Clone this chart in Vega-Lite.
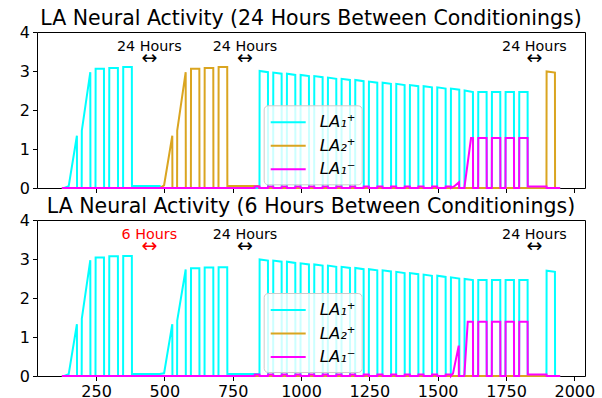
{
"$schema": "https://vega.github.io/schema/vega-lite/v6.json",
"padding": {"left": 18, "top": 8, "right": 5, "bottom": 5},
"config": {
  "font": "DejaVu Sans",
  "view": {"stroke": "black", "strokeWidth": 1},
  "axis": {"domainColor": "black", "tickColor": "black", "labelColor": "black", "labelFontSize": 16, "tickSize": 4.5, "labelPadding": 3, "grid": false, "domain": false},
  "title": {"fontSize": 20.5, "fontWeight": "normal", "color": "black", "frame": "group", "anchor": "middle", "baseline": "alphabetic", "offset": -5.5},
  "legend": {"fillColor": "rgba(255,255,255,0.8)", "strokeColor": "#cccccc", "cornerRadius": 4, "padding": 6, "labelFontSize": 16.5, "labelFontStyle": "italic", "labelFont": "DejaVu Sans", "labelColor": "black", "symbolType": "M-1,0H2.5", "symbolSize": 400, "symbolStrokeWidth": 2, "labelOffset": 28, "rowPadding": 3.5}
},
"datasets": {
  "topC": [{"t":125,"v":0},{"t":134,"v":0},{"t":150,"v":0.05},{"t":180,"v":1.34},{"t":180.5,"v":0},{"t":197.5,"v":0},{"t":198,"v":1.47},{"t":229,"v":2.97},{"t":229.5,"v":0},{"t":248,"v":0},{"t":248.5,"v":3.06},{"t":279,"v":3.06},{"t":279.5,"v":0},{"t":298,"v":0},{"t":298.5,"v":3.08},{"t":330,"v":3.08},{"t":330.5,"v":0},{"t":349,"v":0},{"t":349.5,"v":3.1},{"t":381,"v":3.1},{"t":381.5,"v":0.05},{"t":483,"v":0.05},{"t":483.5,"v":0},{"t":848,"v":0},
    {"t":848.5,"v":3.0},{"t":879,"v":2.97},{"t":879.5,"v":0},{"t":898,"v":0},
    {"t":898.5,"v":2.96},{"t":929,"v":2.93},{"t":929.5,"v":0},{"t":948,"v":0},
    {"t":948.5,"v":2.93},{"t":979,"v":2.9},{"t":979.5,"v":0},{"t":998,"v":0},
    {"t":998.5,"v":2.9},{"t":1029,"v":2.87},{"t":1029.5,"v":0},{"t":1048,"v":0},
    {"t":1048.5,"v":2.87},{"t":1079,"v":2.84},{"t":1079.5,"v":0},{"t":1098,"v":0},
    {"t":1098.5,"v":2.83},{"t":1129,"v":2.8},{"t":1129.5,"v":0},{"t":1148,"v":0},
    {"t":1148.5,"v":2.8},{"t":1179,"v":2.77},{"t":1179.5,"v":0},{"t":1198,"v":0},
    {"t":1198.5,"v":2.77},{"t":1229,"v":2.74},{"t":1229.5,"v":0},{"t":1248,"v":0},
    {"t":1248.5,"v":2.73},{"t":1279,"v":2.7},{"t":1279.5,"v":0},{"t":1298,"v":0},
    {"t":1298.5,"v":2.7},{"t":1329,"v":2.67},{"t":1329.5,"v":0},{"t":1348,"v":0},
    {"t":1348.5,"v":2.67},{"t":1379,"v":2.64},{"t":1379.5,"v":0},{"t":1398,"v":0},
    {"t":1398.5,"v":2.64},{"t":1429,"v":2.61},{"t":1429.5,"v":0},{"t":1448,"v":0},
    {"t":1448.5,"v":2.61},{"t":1479,"v":2.58},{"t":1479.5,"v":0},{"t":1498,"v":0},
    {"t":1498.5,"v":2.58},{"t":1529,"v":2.55},{"t":1529.5,"v":0},{"t":1548,"v":0},
    {"t":1548.5,"v":2.55},{"t":1579,"v":2.52},{"t":1579.5,"v":0},{"t":1598,"v":0},
    {"t":1598.5,"v":2.5},{"t":1629,"v":2.46},{"t":1629.5,"v":0},{"t":1648,"v":0},
    {"t":1648.5,"v":2.46},{"t":1679,"v":2.46},{"t":1679.5,"v":0},{"t":1698,"v":0},
    {"t":1698.5,"v":2.46},{"t":1729,"v":2.46},{"t":1729.5,"v":0},{"t":1748,"v":0},
    {"t":1748.5,"v":2.46},{"t":1779,"v":2.46},{"t":1779.5,"v":0},{"t":1798,"v":0},
    {"t":1798.5,"v":2.46},{"t":1829,"v":2.46},{"t":1829.5,"v":0},{"t":1948,"v":0}],
  "topO": [{"t":125,"v":0},{"t":483,"v":0},{"t":499,"v":0.07},{"t":529,"v":1.34},{"t":529.5,"v":0},{"t":546.5,"v":0},{"t":547,"v":1.47},{"t":578,"v":2.97},{"t":578.5,"v":0},{"t":597,"v":0},{"t":597.5,"v":3.06},{"t":628,"v":3.06},{"t":628.5,"v":0},{"t":647,"v":0},{"t":647.5,"v":3.08},{"t":679,"v":3.08},{"t":679.5,"v":0},{"t":698,"v":0},{"t":698.5,"v":3.1},{"t":730,"v":3.1},{"t":730.5,"v":0.05},{"t":846,"v":0.05},{"t":846.5,"v":0},{"t":1898,"v":0},{"t":1898.5,"v":2.99},{"t":1929,"v":2.96},{"t":1929.5,"v":0},{"t":1948,"v":0}],
  "topM": [{"t":125,"v":0},{"t":830,"v":0},{"t":830.5,"v":0.04},{"t":848,"v":0.04},{"t":848.5,"v":0},
    {"t":879,"v":0},{"t":879.5,"v":0.04},{"t":898,"v":0.04},{"t":898.5,"v":0},
    {"t":929,"v":0},{"t":929.5,"v":0.04},{"t":948,"v":0.04},{"t":948.5,"v":0},
    {"t":979,"v":0},{"t":979.5,"v":0.04},{"t":998,"v":0.04},{"t":998.5,"v":0},
    {"t":1029,"v":0},{"t":1029.5,"v":0.04},{"t":1048,"v":0.04},{"t":1048.5,"v":0},
    {"t":1079,"v":0},{"t":1079.5,"v":0.04},{"t":1098,"v":0.04},{"t":1098.5,"v":0},
    {"t":1129,"v":0},{"t":1129.5,"v":0.04},{"t":1148,"v":0.04},{"t":1148.5,"v":0},
    {"t":1179,"v":0},{"t":1179.5,"v":0.04},{"t":1198,"v":0.04},{"t":1198.5,"v":0},
    {"t":1229,"v":0},{"t":1229.5,"v":0.04},{"t":1248,"v":0.04},{"t":1248.5,"v":0},
    {"t":1279,"v":0},{"t":1279.5,"v":0.04},{"t":1298,"v":0.04},{"t":1298.5,"v":0},
    {"t":1329,"v":0},{"t":1329.5,"v":0.04},{"t":1348,"v":0.04},{"t":1348.5,"v":0},
    {"t":1379,"v":0},{"t":1379.5,"v":0.04},{"t":1398,"v":0.04},{"t":1398.5,"v":0},
    {"t":1429,"v":0},{"t":1429.5,"v":0.04},{"t":1448,"v":0.04},{"t":1448.5,"v":0},
    {"t":1479,"v":0},{"t":1479.5,"v":0.04},{"t":1498,"v":0.04},{"t":1498.5,"v":0},
    {"t":1529,"v":0},{"t":1529.5,"v":0.04},{"t":1548,"v":0.04},{"t":1548.5,"v":0},
    {"t":1560,"v":0.04},{"t":1578,"v":0.15},{"t":1578.5,"v":0},{"t":1598,"v":0},
    {"t":1598.5,"v":0.05},{"t":1622,"v":1.28},{"t":1629,"v":1.28},{"t":1629.5,"v":0},{"t":1648,"v":0},
    {"t":1648.5,"v":1.28},{"t":1679,"v":1.28},{"t":1679.5,"v":0},{"t":1698,"v":0},
    {"t":1698.5,"v":1.28},{"t":1729,"v":1.28},{"t":1729.5,"v":0},{"t":1748,"v":0},
    {"t":1748.5,"v":1.28},{"t":1779,"v":1.28},{"t":1779.5,"v":0},{"t":1798,"v":0},
    {"t":1798.5,"v":1.28},{"t":1829,"v":1.28},{"t":1829.5,"v":0.04},{"t":1898,"v":0.04},{"t":1898.5,"v":0},{"t":1948,"v":0}],
  "botC": [{"t":125,"v":0},{"t":134,"v":0},{"t":150,"v":0.05},{"t":180,"v":1.33},{"t":180.5,"v":0},{"t":197.5,"v":0},{"t":198,"v":1.47},{"t":229,"v":2.97},{"t":229.5,"v":0},{"t":248,"v":0},{"t":248.5,"v":3.04},{"t":279,"v":3.04},{"t":279.5,"v":0},{"t":298,"v":0},{"t":298.5,"v":3.07},{"t":330,"v":3.07},{"t":330.5,"v":0},{"t":349,"v":0},{"t":349.5,"v":3.08},{"t":381,"v":3.08},{"t":381.5,"v":0.05},{"t":483,"v":0.05},{"t":499,"v":0.07},{"t":529,"v":1.33},{"t":529.5,"v":0},{"t":546.5,"v":0},{"t":547,"v":1.42},{"t":578,"v":2.73},{"t":578.5,"v":0},{"t":597,"v":0},{"t":597.5,"v":2.76},{"t":628,"v":2.76},{"t":628.5,"v":0},{"t":647,"v":0},{"t":647.5,"v":2.78},{"t":679,"v":2.78},{"t":679.5,"v":0},{"t":698,"v":0},{"t":698.5,"v":2.79},{"t":730,"v":2.79},{"t":730.5,"v":0.05},{"t":846,"v":0.05},{"t":846.5,"v":0},{"t":848,"v":0},
    {"t":848.5,"v":2.99},{"t":879,"v":2.96},{"t":879.5,"v":0},{"t":898,"v":0},
    {"t":898.5,"v":2.96},{"t":929,"v":2.93},{"t":929.5,"v":0},{"t":948,"v":0},
    {"t":948.5,"v":2.93},{"t":979,"v":2.9},{"t":979.5,"v":0},{"t":998,"v":0},
    {"t":998.5,"v":2.89},{"t":1029,"v":2.86},{"t":1029.5,"v":0},{"t":1048,"v":0},
    {"t":1048.5,"v":2.86},{"t":1079,"v":2.83},{"t":1079.5,"v":0},{"t":1098,"v":0},
    {"t":1098.5,"v":2.83},{"t":1129,"v":2.8},{"t":1129.5,"v":0},{"t":1148,"v":0},
    {"t":1148.5,"v":2.8},{"t":1179,"v":2.77},{"t":1179.5,"v":0},{"t":1198,"v":0},
    {"t":1198.5,"v":2.77},{"t":1229,"v":2.74},{"t":1229.5,"v":0},{"t":1248,"v":0},
    {"t":1248.5,"v":2.74},{"t":1279,"v":2.71},{"t":1279.5,"v":0},{"t":1298,"v":0},
    {"t":1298.5,"v":2.71},{"t":1329,"v":2.68},{"t":1329.5,"v":0},{"t":1348,"v":0},
    {"t":1348.5,"v":2.67},{"t":1379,"v":2.64},{"t":1379.5,"v":0},{"t":1398,"v":0},
    {"t":1398.5,"v":2.64},{"t":1429,"v":2.61},{"t":1429.5,"v":0},{"t":1448,"v":0},
    {"t":1448.5,"v":2.6},{"t":1479,"v":2.57},{"t":1479.5,"v":0},{"t":1498,"v":0},
    {"t":1498.5,"v":2.57},{"t":1529,"v":2.54},{"t":1529.5,"v":0},{"t":1548,"v":0},
    {"t":1548.5,"v":2.53},{"t":1579,"v":2.5},{"t":1579.5,"v":0},{"t":1598,"v":0},
    {"t":1598.5,"v":2.49},{"t":1629,"v":2.46},{"t":1629.5,"v":0},{"t":1648,"v":0},
    {"t":1648.5,"v":2.46},{"t":1679,"v":2.46},{"t":1679.5,"v":0},{"t":1698,"v":0},
    {"t":1698.5,"v":2.46},{"t":1729,"v":2.46},{"t":1729.5,"v":0},{"t":1748,"v":0},
    {"t":1748.5,"v":2.46},{"t":1779,"v":2.46},{"t":1779.5,"v":0},{"t":1798,"v":0},
    {"t":1798.5,"v":2.46},{"t":1829,"v":2.46},{"t":1829.5,"v":0},{"t":1898,"v":0},
    {"t":1898.5,"v":2.7},{"t":1929,"v":2.67},{"t":1929.5,"v":0},{"t":1948,"v":0}],
  "botO": [{"t":125,"v":0},{"t":1948,"v":0}],
  "botM": [{"t":125,"v":0},{"t":830,"v":0},{"t":830.5,"v":0.04},{"t":848,"v":0.04},{"t":848.5,"v":0},
    {"t":879,"v":0},{"t":879.5,"v":0.04},{"t":898,"v":0.04},{"t":898.5,"v":0},
    {"t":929,"v":0},{"t":929.5,"v":0.04},{"t":948,"v":0.04},{"t":948.5,"v":0},
    {"t":979,"v":0},{"t":979.5,"v":0.04},{"t":998,"v":0.04},{"t":998.5,"v":0},
    {"t":1029,"v":0},{"t":1029.5,"v":0.04},{"t":1048,"v":0.04},{"t":1048.5,"v":0},
    {"t":1079,"v":0},{"t":1079.5,"v":0.04},{"t":1098,"v":0.04},{"t":1098.5,"v":0},
    {"t":1129,"v":0},{"t":1129.5,"v":0.04},{"t":1148,"v":0.04},{"t":1148.5,"v":0},
    {"t":1179,"v":0},{"t":1179.5,"v":0.04},{"t":1198,"v":0.04},{"t":1198.5,"v":0},
    {"t":1229,"v":0},{"t":1229.5,"v":0.04},{"t":1248,"v":0.04},{"t":1248.5,"v":0},
    {"t":1279,"v":0},{"t":1279.5,"v":0.04},{"t":1298,"v":0.04},{"t":1298.5,"v":0},
    {"t":1329,"v":0},{"t":1329.5,"v":0.04},{"t":1348,"v":0.04},{"t":1348.5,"v":0},
    {"t":1379,"v":0},{"t":1379.5,"v":0.04},{"t":1398,"v":0.04},{"t":1398.5,"v":0},
    {"t":1429,"v":0},{"t":1429.5,"v":0.04},{"t":1448,"v":0.04},{"t":1448.5,"v":0},
    {"t":1479,"v":0},{"t":1479.5,"v":0.04},{"t":1498,"v":0.04},{"t":1498.5,"v":0},
    {"t":1529,"v":0},{"t":1529.5,"v":0.04},{"t":1548,"v":0.04},{"t":1548.5,"v":0},
    {"t":1556,"v":0.06},{"t":1577,"v":0.78},{"t":1577.5,"v":0},{"t":1597,"v":0},
    {"t":1598,"v":0.06},{"t":1610,"v":1.39},{"t":1629,"v":1.39},{"t":1629.5,"v":0},{"t":1648,"v":0},
    {"t":1648.5,"v":1.39},{"t":1679,"v":1.39},{"t":1679.5,"v":0},{"t":1698,"v":0},
    {"t":1698.5,"v":1.39},{"t":1729,"v":1.39},{"t":1729.5,"v":0},{"t":1748,"v":0},
    {"t":1748.5,"v":1.39},{"t":1779,"v":1.39},{"t":1779.5,"v":0},{"t":1798,"v":0},
    {"t":1798.5,"v":1.39},{"t":1829,"v":1.39},{"t":1829.5,"v":0.04},{"t":1898,"v":0.04},{"t":1898.5,"v":0},{"t":1948,"v":0}],
  "ann": [{"p":"top","t":445,"v":3.51,"label":"24 Hours"},{"p":"top","t":795,"v":3.51,"label":"24 Hours"},{"p":"top","t":1854,"v":3.51,"label":"24 Hours"},
          {"p":"bot","t":445,"v":3.51,"label":"6 Hours"},{"p":"bot","t":795,"v":3.51,"label":"24 Hours"},{"p":"bot","t":1854,"v":3.51,"label":"24 Hours"}]
},
"spacing": -1,
"resolve": {"legend": {"color": "independent"}},
"vconcat": [
  {
    "width": 548, "height": 156,
    "title": {"text": "LA Neural Activity (24 Hours Between Conditionings)"},
    "encoding": {
      "x": {"field": "t", "type": "quantitative", "scale": {"domain": [34, 2039], "nice": false, "zero": false}, "axis": {"values": [250,500,750,1000,1250,1500,1750,2000], "labels": false, "title": null}},
      "y": {"field": "v", "type": "quantitative", "scale": {"domain": [0, 4], "nice": false}, "axis": {"values": [0,1,2,3,4], "format": "d", "title": null}}
    },
    "layer": [
      {"data": {"name": "topC"}, "mark": {"type": "line", "strokeWidth": 2}, "encoding": {"color": {"datum": "LA₁⁺", "type": "nominal", "scale": {"domain": ["LA₁⁺", "LA₂⁺", "LA₁⁻"], "range": ["#00ffff", "#daa520", "#ff00ff"]}, "legend": {"orient": "none", "legendX": 226.7, "legendY": 73.3, "title": null}}}},
      {"data": {"name": "topO"}, "mark": {"type": "line", "strokeWidth": 2}, "encoding": {"color": {"datum": "LA₂⁺", "type": "nominal"}}},
      {"data": {"name": "topM"}, "mark": {"type": "line", "strokeWidth": 2}, "encoding": {"color": {"datum": "LA₁⁻", "type": "nominal"}}},
      {"data": {"name": "ann"}, "transform": [{"filter": "datum.p == 'top'"}], "mark": {"type": "text", "fontSize": 14.3, "baseline": "alphabetic", "align": "center"}, "encoding": {"text": {"field": "label"}, "color": {"condition": {"test": "datum.label == '6 Hours'", "value": "red"}, "value": "black"}}},
      {"data": {"name": "ann"}, "transform": [{"filter": "datum.p == 'top'"}], "mark": {"type": "text", "fontSize": 19, "baseline": "alphabetic", "align": "center", "dy": 13, "text": "↔"}, "encoding": {"color": {"condition": {"test": "datum.label == '6 Hours'", "value": "red"}, "value": "black"}}}
    ]
  },
  {
    "width": 548, "height": 156,
    "title": {"text": "LA Neural Activity (6 Hours Between Conditionings)"},
    "encoding": {
      "x": {"field": "t", "type": "quantitative", "scale": {"domain": [34, 2039], "nice": false, "zero": false}, "axis": {"values": [250,500,750,1000,1250,1500,1750,2000], "format": "d", "title": null}},
      "y": {"field": "v", "type": "quantitative", "scale": {"domain": [0, 4], "nice": false}, "axis": {"values": [0,1,2,3,4], "format": "d", "title": null}}
    },
    "layer": [
      {"data": {"name": "botC"}, "mark": {"type": "line", "strokeWidth": 2}, "encoding": {"color": {"datum": "LA₁⁺", "type": "nominal", "scale": {"domain": ["LA₁⁺", "LA₂⁺", "LA₁⁻"], "range": ["#00ffff", "#daa520", "#ff00ff"]}, "legend": {"orient": "none", "legendX": 226.7, "legendY": 73, "title": null}}}},
      {"data": {"name": "botO"}, "mark": {"type": "line", "strokeWidth": 2}, "encoding": {"color": {"datum": "LA₂⁺", "type": "nominal"}}},
      {"data": {"name": "botM"}, "mark": {"type": "line", "strokeWidth": 2}, "encoding": {"color": {"datum": "LA₁⁻", "type": "nominal"}}},
      {"data": {"name": "ann"}, "transform": [{"filter": "datum.p == 'bot'"}], "mark": {"type": "text", "fontSize": 14.3, "baseline": "alphabetic", "align": "center"}, "encoding": {"text": {"field": "label"}, "color": {"condition": {"test": "datum.label == '6 Hours'", "value": "red"}, "value": "black"}}},
      {"data": {"name": "ann"}, "transform": [{"filter": "datum.p == 'bot'"}], "mark": {"type": "text", "fontSize": 19, "baseline": "alphabetic", "align": "center", "dy": 13, "text": "↔"}, "encoding": {"color": {"condition": {"test": "datum.label == '6 Hours'", "value": "red"}, "value": "black"}}}
    ]
  }
]
}
